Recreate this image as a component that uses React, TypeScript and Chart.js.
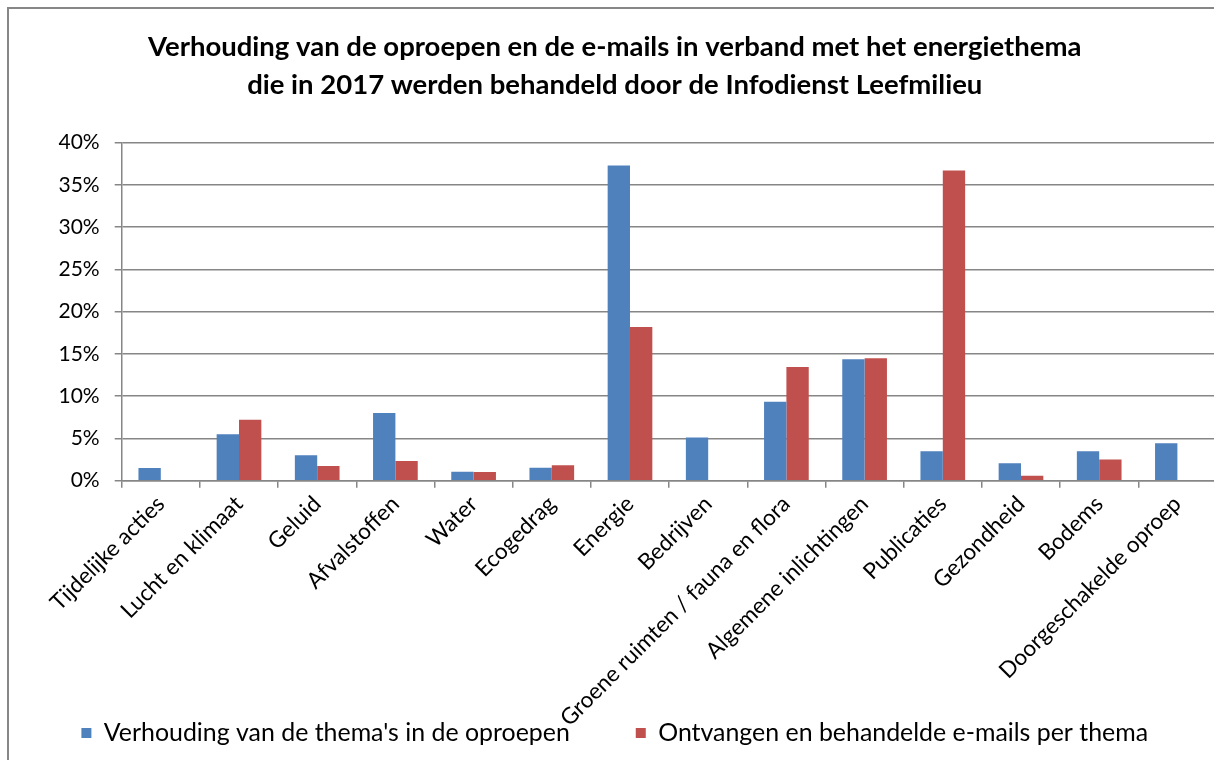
import React, { useEffect, useRef } from "react";
import { Chart, registerables } from "chart.js";

Chart.register(...registerables);

const TITLE_LINES = [
  "Verhouding van de oproepen en de e-mails in verband met het energiethema",
  "die in 2017 werden behandeld door de Infodienst Leefmilieu",
];

const CATEGORIES = [
  "Tijdelijke acties",
  "Lucht en klimaat",
  "Geluid",
  "Afvalstoffen",
  "Water",
  "Ecogedrag",
  "Energie",
  "Bedrijven",
  "Groene ruimten / fauna en flora",
  "Algemene inlichtingen",
  "Publicaties",
  "Gezondheid",
  "Bodems",
  "Doorgeschakelde oproep",
];

const SERIES_CALLS_LABEL = "Verhouding van de thema's in de oproepen";
const SERIES_CALLS = [1.5, 5.5, 3.0, 8.0, 1.07, 1.54, 37.3, 5.1, 9.35, 14.37, 3.5, 2.07, 3.5, 4.44];

const SERIES_MAILS_LABEL = "Ontvangen en behandelde e-mails per thema";
const SERIES_MAILS = [0, 7.2, 1.74, 2.33, 1.03, 1.82, 18.2, 0, 13.45, 14.48, 36.7, 0.6, 2.5, 0];

const Y_MIN = 0;
const Y_MAX = 40;
const Y_STEP = 5;

const FONT = "Lato, 'Open Sans', sans-serif";
const GRID = "#868686";

const LEGEND_SIZE = 24.9;
const LEGEND_GAP = 66;

const framePlugin = {
  id: "frame",
  beforeDraw(chart: any) {
    const { ctx, width, height } = chart;
    ctx.save();
    ctx.fillStyle = "#ffffff";
    ctx.fillRect(0, 0, width, height);
    ctx.strokeStyle = "#878787";
    ctx.lineWidth = 2;
    ctx.beginPath();
    ctx.moveTo(1, height);
    ctx.lineTo(1, 1);
    ctx.lineTo(width, 1);
    ctx.stroke();
    ctx.restore();
  },
};

export default function App() {
  const ref = useRef<HTMLCanvasElement>(null);

  useEffect(() => {
    if (!ref.current) return;
    const chart = new Chart(ref.current, {
      type: "bar",
      data: {
        labels: CATEGORIES,
        datasets: [
          {
            label: SERIES_CALLS_LABEL,
            data: SERIES_CALLS,
            backgroundColor: "#4F81BD",
            borderWidth: 0,
            categoryPercentage: 0.5714,
            barPercentage: 1,
          },
          {
            label: SERIES_MAILS_LABEL,
            data: SERIES_MAILS,
            backgroundColor: "#C0504D",
            borderWidth: 0,
            categoryPercentage: 0.5714,
            barPercentage: 1,
          },
        ],
      },
      options: {
        responsive: false,
        animation: false,
        layout: { padding: { left: 6, right: 12.5, top: 0, bottom: 21.55 } },
        plugins: {
          title: {
            display: true,
            text: TITLE_LINES,
            color: "#000",
            font: { family: FONT, size: 27.5, weight: "bold", lineHeight: 38 / 27.5 },
            padding: { top: 21, bottom: 38.7 },
          },
          legend: {
            display: true,
            position: "bottom",
            labels: {
              color: "#000",
              font: { family: FONT, size: LEGEND_SIZE },
              boxWidth: 10,
              boxHeight: 10,
              padding: LEGEND_GAP,
            },
          },
          tooltip: { enabled: false },
        },
        scales: {
          x: {
            afterFit(scale: any) {
              scale.height = 173.85;
              scale._computeLabelArea = () => undefined;
            },
            grid: {
              display: true,
              drawOnChartArea: false,
              drawTicks: true,
              tickLength: 7,
              color: GRID,
              lineWidth: 1.5,
              offset: true,
            },
            border: { display: true, color: GRID, width: 1.5 },
            ticks: {
              color: "#000",
              font: { family: FONT, size: 22.5 },
              minRotation: 45,
              maxRotation: 45,
              autoSkip: false,
              padding: 3,
            },
          },
          y: {
            min: Y_MIN,
            max: Y_MAX,
            afterFit(scale: any) {
              scale.width = 108.7;
            },
            grid: {
              color: GRID,
              lineWidth: 1.5,
              drawTicks: true,
              tickLength: 7,
            },
            border: { display: true, color: GRID, width: 1.5 },
            ticks: {
              stepSize: Y_STEP,
              color: "#000",
              font: { family: FONT, size: 21 },
              padding: 15,
              callback: (v: any) => `${v}%`,
            },
          },
        },
      },
      plugins: [framePlugin],
    });
    return () => chart.destroy();
  }, []);

  return (
    <div
      style={{
        position: "absolute",
        left: 7,
        top: 7,
        width: 1207,
        height: 753,
        overflow: "hidden",
      }}
    >
      <canvas ref={ref} width={1222} height={770} style={{ display: "block" }} />
    </div>
  );
}
